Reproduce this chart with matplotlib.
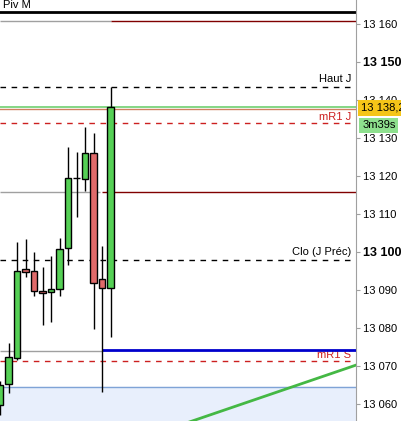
import matplotlib as mpl
mpl.use("Agg")
import matplotlib.pyplot as plt
from matplotlib.ticker import FixedLocator

# candles (index, open, high, low, close)
idx    = [0, 1, 2, 3, 4, 5, 6, 7, 8, 9, 10, 11, 12, 13]
opens  = [13059.7, 13065.2, 13072.2, 13095.4, 13095.0, 13089.7, 13089.4, 13090.2, 13101.0, 13119.4, 13119.1, 13126.0, 13092.8, 13090.4]
highs  = [13066.0, 13076.1, 13102.7, 13103.4, 13099.9, 13096.0, 13098.9, 13103.6, 13127.6, 13126.4, 13132.8, 13131.4, 13101.6, 13143.3]
lows   = [13057.0, 13062.9, 13071.6, 13093.3, 13088.4, 13080.8, 13081.6, 13088.5, 13096.6, 13109.3, 13116.1, 13079.7, 13063.1, 13077.7]
closes = [13065.0, 13072.3, 13095.1, 13094.6, 13089.6, 13089.1, 13090.2, 13100.8, 13119.4, 13119.4, 13126.0, 13091.8, 13090.4, 13138.1]

# levels
piv_m = 13163.2
upper_line = 13160.7
haut_j = 13143.3
last_price = 13138.2
tan_level = 13137.6
mr1_j = 13133.9
mid_line = 13115.7
clo_prec = 13097.9
grey_low = 13073.9
blue_level = 13074.3
mr1_s = 13071.3
zone_top = 13064.4

trend_x = [20.0, 42.0]
trend_y = [13053.5, 13070.3]

ticks = [13060, 13070, 13080, 13090, 13100, 13110, 13120, 13130, 13140, 13150, 13160]
bold_ticks = [13100, 13150]

W, H = 402, 421
fig = plt.figure(figsize=(W / 100, H / 100), dpi=100)
ax = fig.add_axes([0, 0, 356.5 / W, 1])

xmax = 356.5 / 8.5
ax.set_xlim(-0.0, xmax)
ax.set_ylim(13055.5, 13166.3)

# zone at bottom
ax.axhspan(13000, zone_top, color='#e8effc', zorder=0)
ax.axhline(zone_top, color='#7fa3d6', lw=1, zorder=1)

# horizontal levels
ax.axhline(piv_m, color='black', lw=2, zorder=2)
ax.hlines(upper_line, 0, 13, color='#a0a0a0', lw=1)
ax.hlines(upper_line, 13, xmax, color='#800000', lw=1)
ax.hlines(haut_j, 0, 41.4, color='black', lw=1, linestyles=(0, (4, 4)))
ax.axhline(last_price, color='#6fcf6f', lw=1.2)
ax.axhline(tan_level, color='#d08060', lw=1)
ax.hlines(mr1_j, 0, 41.4, color='#cc2020', lw=1, linestyles=(0, (4, 4)))
ax.hlines(mid_line, 0, 11.8, color='#a0a0a0', lw=1)
ax.hlines(mid_line, 12.0, xmax, color='#800000', lw=1)
ax.hlines(clo_prec, 0, 41.4, color='black', lw=1, linestyles=(0, (4, 4)))
ax.hlines(grey_low, 0, 12, color='#a0a0a0', lw=1)
ax.hlines(mr1_s, 0, 41.4, color='#cc2020', lw=1, linestyles=(0, (4, 4)))
ax.hlines(blue_level, 12, xmax, color='#0000cc', lw=2, zorder=4)

ax.plot(trend_x, trend_y, color='#44b844', lw=2)

# candles
for i, o, h, l, c in zip(idx, opens, highs, lows, closes):
    ax.vlines(i, l, h, color='black', lw=1, zorder=5)
    col = '#55d055' if c >= o else '#e06a6a'
    bottom = min(o, c)
    height = max(abs(c - o), 0.15)
    ax.bar(i, height, bottom=bottom, width=0.72, color=col,
           edgecolor='black', linewidth=1, zorder=6)

# labels
ax.text(0.3, 13165.0, 'Piv M', fontsize=8, va='center', ha='left',
        family='Liberation Sans')
ax.text(41.3, 13145.4, 'Haut J', fontsize=8, va='center', ha='right',
        family='Liberation Sans')
ax.text(41.3, 13135.6, 'mR1 J', fontsize=8, va='center', ha='right',
        color='#cc2020', family='Liberation Sans')
ax.text(41.3, 13099.9, 'Clo (J Préc)', fontsize=8, va='center', ha='right',
        family='Liberation Sans')
ax.text(41.3, 13072.9, 'mR1 S', fontsize=8, va='center', ha='right',
        color='#cc2020', family='Liberation Sans', zorder=3)

# axis styling
for s in ['top', 'left', 'bottom']:
    ax.spines[s].set_visible(False)
ax.spines['right'].set_color('#a0a0a0')
ax.set_xticks([])
ax.yaxis.tick_right()
ax.yaxis.set_major_locator(FixedLocator(ticks))
ax.set_yticklabels(['{:,}'.format(t).replace(',', ' ') for t in ticks])
ax.tick_params(axis='y', length=3, color='#a0a0a0', pad=2, labelsize=8)
for lab, t in zip(ax.get_yticklabels(), ticks):
    lab.set_family('Liberation Sans')
    if t in bold_ticks:
        lab.set_fontweight('bold')
        lab.set_fontsize(9)

# price tags
tr = ax.get_yaxis_transform()
ax.text(1.013, last_price - 0.3, '13 138,2', transform=tr, fontsize=8,
        va='center', ha='left', family='Liberation Sans', clip_on=False, zorder=10,
        bbox=dict(boxstyle='square,pad=0.25', fc='#f5c518', ec='none'))
ax.text(1.016, 13133.3, '3m39s', transform=tr, fontsize=8,
        va='center', ha='left', family='Liberation Sans', clip_on=False, zorder=10,
        bbox=dict(boxstyle='square,pad=0.25', fc='#8ee08e', ec='none'))

plt.savefig('out.png', dpi=100)
